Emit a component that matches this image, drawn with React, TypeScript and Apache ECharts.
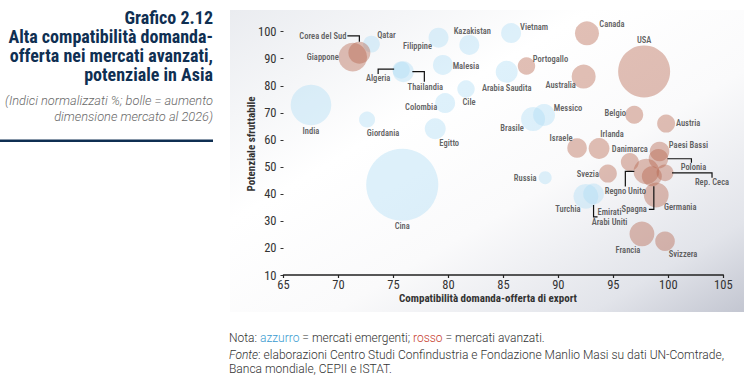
import React, { useEffect, useRef } from "react";
import * as echarts from "echarts";

// ---- Data ----
const emergingNames = ["India", "Cina", "Qatar", "Filippine", "Kazakistan", "Vietnam", "Algeria", "Thailandia", "Malesia", "Cile", "Colombia", "Giordania", "Egitto", "Arabia Saudita", "Brasile", "Messico", "Russia", "Turchia", "Emirati\nArabi Uniti"];
const emergingX = [67.5, 75.8, 73.0, 79.1, 81.9, 85.7, 75.7, 75.9, 79.5, 81.6, 79.7, 72.6, 78.8, 85.3, 87.7, 88.7, 88.8, 92.5, 93.2];
const emergingY = [72.9, 43.4, 95.4, 97.8, 95.1, 99.5, 85.8, 85.2, 87.7, 78.8, 73.6, 67.5, 64.1, 85.2, 67.7, 69.2, 46.0, 39.1, 40.0];
const emergingGrowth = [41, 130, 7.1, 10, 10, 10, 7.5, 11, 10, 7.6, 10, 6.4, 11, 12.1, 14.4, 12.1, 4.2, 15.4, 10.8];

const advancedNames = ["Giappone", "Corea del Sud", "Canada", "Portogallo", "Australia", "USA", "Belgio", "Austria", "Israele", "Irlanda", "Danimarca", "Paesi Bassi", "Polonia", "Rep. Ceca", "Regno Unito", "Spagna", "Germania", "Svezia", "Francia", "Svizzera"];
const advancedX = [71.3, 71.9, 92.6, 87.1, 92.3, 97.8, 96.9, 99.8, 91.7, 93.7, 96.5, 99.2, 99.1, 99.7, 98.0, 98.5, 98.9, 94.5, 97.6, 99.7];
const advancedY = [90.6, 92.2, 99.4, 87.3, 83.4, 85.3, 69.3, 66.0, 57.0, 56.8, 51.8, 55.7, 53.0, 47.8, 48.3, 46.5, 39.6, 47.5, 25.2, 22.5];
const advancedGrowth = [20.4, 12.1, 14.4, 7.6, 14.4, 67.6, 8.1, 8.1, 9.6, 10.8, 8.1, 9.6, 9.6, 7.1, 16.4, 10, 15.4, 8.1, 15.4, 9.6];

const xTicks = [65, 70, 75, 80, 85, 90, 95, 100, 105];
const yTicks = [10, 20, 30, 40, 50, 60, 70, 80, 90, 100];

// ---- Layout / annotation (pixel offsets from bubble centres) ----
const labelPlace: Record<string, [number, number, string?]> = {
  "India": [0, 26], "Cina": [0, 41], "Qatar": [15, -9], "Filippine": [-21, 8], "Kazakistan": [3, -14],
  "Vietnam": [23, -6], "Malesia": [23, 1], "Cile": [3, 13], "Colombia": [-24, 4], "Giordania": [16, 13],
  "Egitto": [14, 14], "Arabia Saudita": [0, 16], "Brasile": [-21, 9], "Messico": [24, -7], "Russia": [-20, 0],
  "Turchia": [-18, 13], "Emirati\nArabi Uniti": [16, 23], "Algeria": [-23, 8], "Thailandia": [22, 15],
  "Giappone": [-30, 0], "Corea del Sud": [-13, -17, "right"], "Canada": [25, -9], "USA": [0, -31],
  "Portogallo": [24, -7], "Australia": [-23, 8], "Belgio": [-19, -2], "Austria": [22, -1], "Israele": [-16, -10],
  "Irlanda": [13, -14], "Danimarca": [0, -13], "Paesi Bassi": [29, -6], "Polonia": [35, 8], "Rep. Ceca": [47, 9],
  "Regno Unito": [-21, 20], "Spagna": [-5, 33, "right"], "Germania": [24, 12], "Svezia": [-20, 0],
  "Francia": [-14, 16], "Svizzera": [18, 13],
};
const leaders: Record<string, number[][]> = {
  "Corea del Sud": [[-12, -17], [0, -17], [0, -11]],
  "Algeria": [[-23, 4], [-23, -1], [-7, -1]],
  "Thailandia": [[21, 10], [21, 0], [9, 0]],
  "Emirati\nArabi Uniti": [[0, 11], [0, 23], [4, 23]],
  "Polonia": [[9, 0], [33, 0], [33, 4]],
  "Rep. Ceca": [[7, 0], [47, 0], [47, 5]],
  "Regno Unito": [[-21, 15], [-21, 0], [-12, 0]],
  "Spagna": [[2, 10], [2, 33], [-3, 33]],
};

const COND = "'Liberation Sans Narrow', 'Roboto Condensed', 'DejaVu Sans Condensed', sans-serif";
const NAVY = "#0f2f52";

const sizeOf = (g: number) => 2 * Math.sqrt(g * 10);

function buildData(names: string[], xs: number[], ys: number[], gs: number[]) {
  return names.map((n, i) => {
    const p = labelPlace[n] || [0, 0];
    return {
      name: n,
      value: [xs[i], ys[i], gs[i]],
      symbolSize: sizeOf(gs[i]),
      label: { offset: [p[0], p[1]], align: p[2] || "center" },
    };
  });
}

export default function App() {
  const ref = useRef<HTMLDivElement>(null);
  useEffect(() => {
    if (!ref.current) return;
    const chart = echarts.init(ref.current, null, { renderer: "svg" });
    const labelCommon = {
      show: true,
      position: "inside",
      formatter: (p: any) => p.name,
      color: "#3a3a3a",
      fontFamily: COND,
      fontSize: 8.5,
      fontWeight: 600,
      lineHeight: 10,
    };
    chart.setOption({
      animation: false,
      grid: { left: 283.5, right: 28.7, top: 31.7, bottom: 103 },
      xAxis: {
        type: "value", min: 65, max: 105, interval: 5,
        axisLine: { show: true, lineStyle: { color: "#222", width: 1.5 } },
        axisTick: { show: true, length: 3, lineStyle: { color: "#222", width: 1.2 } },
        axisLabel: { color: "#333", fontFamily: COND, fontSize: 12.5, margin: 3, customValues: xTicks },
        splitLine: { show: false },
      },
      yAxis: {
        type: "value", min: 10, max: 100, interval: 10,
        axisLine: { show: false },
        axisTick: { show: true, length: 3, lineStyle: { color: "#333", width: 1 } },
        axisLabel: { color: "#333", fontFamily: COND, fontSize: 12.5, margin: 7, customValues: yTicks },
        splitLine: { show: false },
      },
      series: [
        {
          type: "scatter", name: "emergenti", clip: false, z: 2,
          data: buildData(emergingNames, emergingX, emergingY, emergingGrowth),
          itemStyle: { color: "rgba(173,220,245,0.5)" },
          label: labelCommon,
          emphasis: { disabled: true },
        },
        {
          type: "scatter", name: "avanzati", clip: false, z: 3,
          data: buildData(advancedNames, advancedX, advancedY, advancedGrowth),
          itemStyle: { color: "rgba(180,95,70,0.5)" },
          label: labelCommon,
          emphasis: { disabled: true },
        },
      ],
    });

    const lines: any[] = [];
    const addLeaders = (names: string[], xs: number[], ys: number[]) => {
      names.forEach((n, i) => {
        const l = leaders[n];
        if (!l) return;
        const c = chart.convertToPixel({ gridIndex: 0 }, [xs[i], ys[i]]) as number[];
        lines.push({
          type: "polyline", z: 10, silent: true,
          shape: { points: l.map((d) => [c[0] + d[0], c[1] + d[1]]) },
          style: { stroke: "#111", lineWidth: 1.2, fill: null },
        });
      });
    };
    addLeaders(emergingNames, emergingX, emergingY);
    addLeaders(advancedNames, advancedX, advancedY);

    chart.setOption({
      graphic: [
        {
          type: "rect", z: -10, silent: true,
          shape: { x: 230, y: 10, width: 514, height: 302 },
          style: {
            fill: new echarts.graphic.LinearGradient(0, 0, 1, 1, [
              { offset: 0, color: "#eaecf0" },
              { offset: 0.35, color: "#ffffff" },
              { offset: 0.6, color: "#fafafb" },
              { offset: 0.85, color: "#e2e4ea" },
              { offset: 1, color: "#c3c6d1" },
            ]),
          },
        },
        { type: "text", x: 213, y: 17, style: { text: "Grafico 2.12", align: "right", verticalAlign: "middle", fill: NAVY, font: "bold 18px " + COND } },
        { type: "text", x: 213, y: 36, style: { text: "Alta compatibilità domanda-", align: "right", verticalAlign: "middle", fill: NAVY, font: "bold 18px " + COND } },
        { type: "text", x: 213, y: 55, style: { text: "offerta nei mercati avanzati,", align: "right", verticalAlign: "middle", fill: NAVY, font: "bold 18px " + COND } },
        { type: "text", x: 213, y: 74, style: { text: "potenziale in Asia", align: "right", verticalAlign: "middle", fill: NAVY, font: "bold 18px " + COND } },
        { type: "text", x: 213, y: 100, style: { text: "(Indici normalizzati %; bolle = aumento", align: "right", verticalAlign: "middle", fill: "#6a6a6a", font: "italic 300 12.8px Roboto" } },
        { type: "text", x: 213, y: 116, style: { text: "dimensione mercato al 2026)", align: "right", verticalAlign: "middle", fill: "#6a6a6a", font: "italic 300 12.8px Roboto" } },
        { type: "rect", shape: { x: 0, y: 139.5, width: 213, height: 2.5 }, style: { fill: NAVY } },
        { type: "text", x: 488, y: 298, style: { text: "Compatibilità domanda-offerta di export", align: "center", verticalAlign: "middle", fill: "#333", font: "bold 11px " + COND } },
        { type: "text", x: 251, y: 144, rotation: Math.PI / 2, style: { text: "Potenziale sfruttabile", align: "center", verticalAlign: "middle", fill: "#333", font: "bold 11px " + COND } },
        {
          type: "text", x: 229, y: 338,
          style: {
            text: "{n|Nota: }{b|azzurro}{n| = mercati emergenti; }{r|rosso}{n| = mercati avanzati.}",
            verticalAlign: "middle",
            rich: {
              n: { fill: "#333", font: "300 12px Roboto" },
              b: { fill: "#3a9bd0", font: "300 12px Roboto" },
              r: { fill: "#c63b2e", font: "300 12px Roboto" },
            },
          },
        },
        {
          type: "text", x: 229, y: 355,
          style: {
            text: "{i|Fonte}{n|: elaborazioni Centro Studi Confindustria e Fondazione Manlio Masi su dati UN-Comtrade,}",
            verticalAlign: "middle",
            rich: {
              n: { fill: "#333", font: "300 12px Roboto" },
              i: { fill: "#333", font: "italic 300 12px Roboto" },
            },
          },
        },
        { type: "text", x: 229, y: 369, style: { text: "Banca mondiale, CEPII e ISTAT.", verticalAlign: "middle", fill: "#333", font: "300 12px Roboto" } },
        ...lines,
      ],
    });
    return () => chart.dispose();
  }, []);
  return <div ref={ref} style={{ position: "absolute", left: 0, top: 0, width: 752, height: 378 }} />;
}
